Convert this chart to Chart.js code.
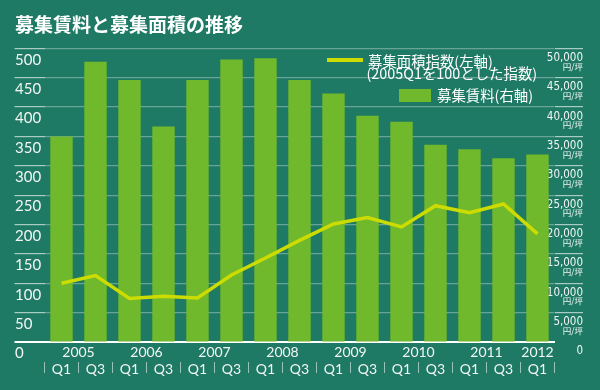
<!DOCTYPE html>
<html><head><meta charset="utf-8">
<script src="https://cdn.jsdelivr.net/npm/chart.js@4.4.0/dist/chart.umd.min.js"></script>
<style>
html,body{margin:0;padding:0;background:#1f7a65;}
#wrap{position:relative;width:600px;height:390px;overflow:hidden;background:#1f7a65;}
#c{position:absolute;left:0;top:0;}
.lg{position:absolute;color:#fff;font-family:'Noto Sans CJK JP',sans-serif;font-size:14.4px;line-height:16px;white-space:nowrap;}
.sw{position:absolute;}
</style></head><body>
<div id="wrap"><canvas id="c" width="600" height="390"></canvas><div id="legend"></div></div>
<script>
// ---- data ----
const chartTitle = '募集賃料と募集面積の推移';
const quarters = ['Q1','Q3','Q1','Q3','Q1','Q3','Q1','Q3','Q1','Q3','Q1','Q3','Q1','Q3','Q1'];
const categoryYears = ['2005','2005','2006','2006','2007','2007','2008','2008','2009','2009','2010','2010','2011','2011','2012'];
const rentValues = [35000, 47700, 44600, 36700, 44600, 48100, 48300, 44600, 42300, 38500, 37500, 33600, 32800, 31300, 31900];
const areaIndexValues = [100, 113, 74, 78, 75, 114, 143, 173, 201, 212, 196, 232, 220, 235, 184];
const areaSeriesName = '募集面積指数(左軸)';
const areaSeriesNote = '(2005Q1を100とした指数)';
const rentSeriesName = '募集賃料(右軸)';
const leftAxisRange = [0, 500, 50];
const rightAxisRange = [0, 50000, 5000];
const rightUnit = '円/坪';

// ---- styles ----
const barColor = '#70b82c';
const lineColor = '#cddc00';
const gridColor = 'rgba(255,255,255,0.32)';
const tickColor = 'rgba(255,255,255,0.62)';
const sepColor = 'rgba(255,255,255,0.55)';
const labelColor = '#f2f6f4';

// year label positions derived from categories (mean index of each year's categories)
const yearTicks = [];
categoryYears.forEach((y, i) => {
  let t = yearTicks.find(o => o.label === y);
  if (!t) { t = {label: y, idx: []}; yearTicks.push(t); }
  t.idx.push(i);
});
yearTicks.forEach(t => { t.pos = t.idx.reduce((a,b)=>a+b,0) / t.idx.length; });

const isZero = c => c.tick && c.tick.value === 0;

new Chart(document.getElementById('c'), {
  data: {
    labels: quarters,
    datasets: [
      { type: 'line', label: areaSeriesName, data: areaIndexValues, yAxisID: 'y', xAxisID: 'x',
        borderColor: lineColor, borderWidth: 3.5, pointRadius: 0, tension: 0, order: 0 },
      { type: 'bar', label: rentSeriesName, data: rentValues, yAxisID: 'yR', xAxisID: 'x',
        backgroundColor: barColor, borderWidth: 0, barPercentage: 0.66, categoryPercentage: 1, order: 1 }
    ]
  },
  options: {
    responsive: false, animation: false, devicePixelRatio: 1,
    layout: { padding: { left: 15, right: 17, top: 0, bottom: 0 } },
    plugins: {
      legend: { display: false }, tooltip: { enabled: false },
      title: { display: true, text: chartTitle, align: 'start', color: '#ffffff',
        font: { family: "'Noto Sans CJK JP', sans-serif", size: 19, weight: 'bold' },
        padding: { top: 13, bottom: 12.5 } }
    },
    scales: {
      x: { type: 'category', position: 'bottom', weight: 1, offset: true,
        grid: { display: true, offset: true, drawOnChartArea: false, drawTicks: true, tickLength: 11, color: sepColor, tickColor: sepColor, lineWidth: 1 },
        border: { display: false },
        ticks: { color: labelColor, font: { family: 'Lato, sans-serif', size: 14 }, padding: -12.4, autoSkip: false, maxRotation: 0 },
        afterFit: s => { s.height = 28; } },
      xYear: { type: 'linear', position: 'bottom', weight: 0, min: -0.5, max: quarters.length - 0.5,
        afterBuildTicks: s => { s.ticks = yearTicks.map(t => ({ value: t.pos })); },
        grid: { display: false, drawTicks: false, tickLength: 0 },
        border: { display: true, color: '#ffffff', width: 2 },
        ticks: { color: labelColor, font: { family: 'Lato, sans-serif', size: 14 }, padding: 2.3, autoSkip: false, maxRotation: 0,
          callback: (v, i) => yearTicks[i] ? yearTicks[i].label : '' },
        afterFit: s => { s.height = 20; } },
      y: { type: 'linear', position: 'left', min: leftAxisRange[0], max: leftAxisRange[1],
        ticks: { stepSize: leftAxisRange[2], color: labelColor, font: { family: 'Lato, sans-serif', size: 15 }, crossAlign: 'far', labelOffset: 11.5, padding: 0 },
        grid: { drawTicks: true, tickLength: 30,
          color: c => isZero(c) ? '#ffffff' : gridColor,
          tickColor: c => isZero(c) ? '#ffffff' : tickColor,
          lineWidth: c => isZero(c) ? 2 : 1.2 },
        border: { display: false },
        afterFit: s => { s.width = 29.5; } },
      yR: { type: 'linear', position: 'right', weight: 0, min: rightAxisRange[0], max: rightAxisRange[1],
        ticks: { stepSize: rightAxisRange[2], color: labelColor, mirror: true,
          font: { family: "'Liberation Sans Narrow', 'DejaVu Sans Condensed', sans-serif", size: 11.5 },
          crossAlign: 'near', labelOffset: 9.5, padding: 28.5,
          callback: v => v.toLocaleString('en-US') },
        grid: { drawOnChartArea: false, drawTicks: true, tickLength: 28.5,
          tickColor: c => isZero(c) ? 'rgba(0,0,0,0)' : tickColor, lineWidth: 1.2 },
        border: { display: false },
        afterFit: s => { s.width = 28.5; } },
      yR2: { type: 'linear', position: 'right', weight: 1, min: rightAxisRange[0], max: rightAxisRange[1],
        ticks: { stepSize: rightAxisRange[2], color: labelColor, mirror: true,
          font: { family: "'Noto Sans CJK JP', sans-serif", size: 8.5 },
          crossAlign: 'near', labelOffset: 18, padding: 0,
          callback: v => v === 0 ? '' : rightUnit },
        grid: { display: false, drawTicks: false, tickLength: 0 },
        border: { display: false },
        afterFit: s => { s.width = 0; } }
    }
  }
});

// ---- legend (HTML text) ----
const lg = document.getElementById('legend');
function add(text, css, cls) { const d = document.createElement('div'); d.className = cls; d.style.cssText = css; d.textContent = text; lg.appendChild(d); return d; }
add('', `left:327px;top:58.3px;width:35.5px;height:3.5px;background:${lineColor};`, 'sw');
add(areaSeriesName, 'left:368px;top:52.7px;', 'lg');
add(areaSeriesNote, 'left:366.5px;top:65.3px;', 'lg');
add('', `left:399px;top:89.3px;width:32px;height:12.4px;background:${barColor};`, 'sw');
add(rentSeriesName, 'left:437px;top:87px;', 'lg');
</script>
</body></html>
